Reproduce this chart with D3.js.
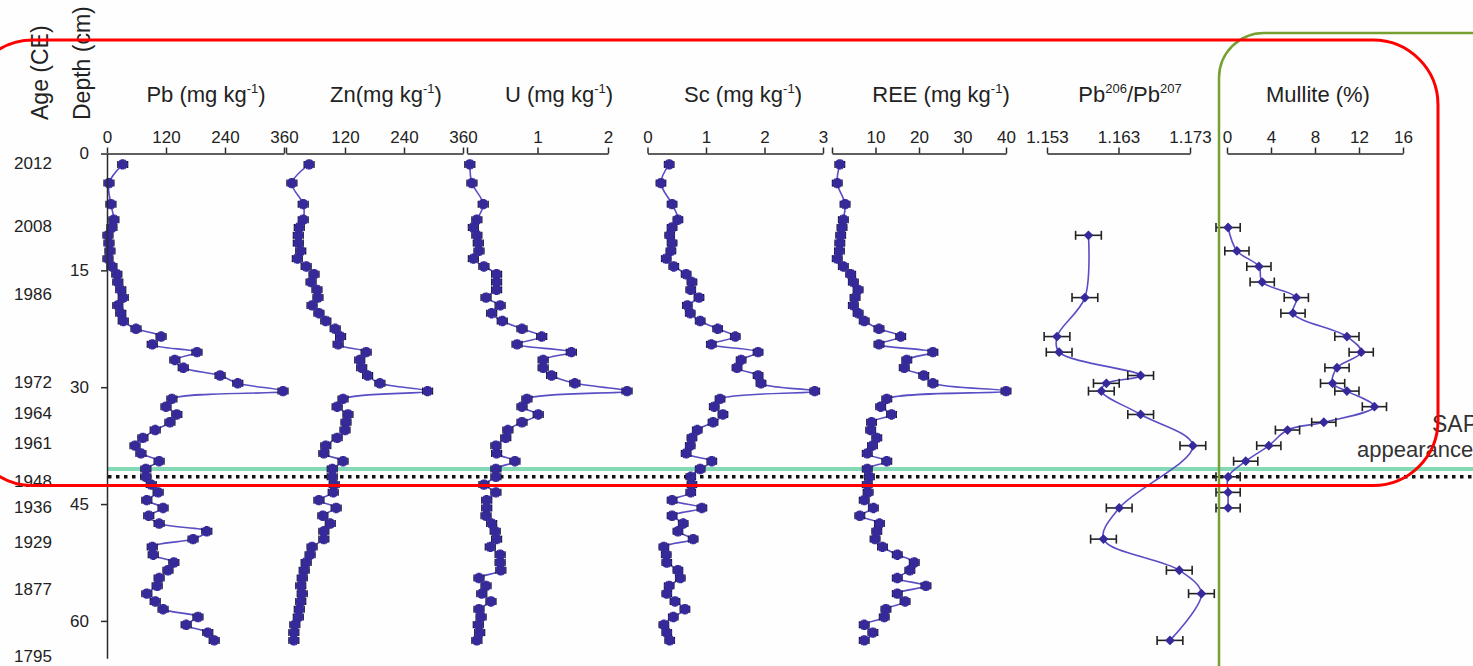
<!DOCTYPE html>
<html>
<head>
<meta charset="utf-8">
<script src="https://cdn.jsdelivr.net/npm/d3@7"></script>
<style>
  body { margin: 0; background: #fefefe; }
  svg { display: block; font-family: "Liberation Sans", Arial, sans-serif; }
</style>
</head>
<body>
<svg width="1473" height="666"></svg>
<script>
// глубины отбора проб (см)
const depth = [1.4, 3.8, 6.5, 8.5, 9.5, 10.5, 11.5, 12.5, 13.5, 14.5, 15.5, 16.5, 17.5, 18.5, 19.5, 20.5,
  21.5, 22.5, 23.5, 24.5, 25.5, 26.5, 27.5, 28.5, 29.5, 30.5, 31.5, 32.5, 33.5, 34.5, 35.5, 36.5, 37.5,
  38.5, 39.5, 40.5, 41.5, 42.5, 43.5, 44.5, 45.5, 46.5, 47.5, 48.5, 49.5, 50.5, 51.5, 52.5, 53.5, 54.5,
  55.5, 56.5, 57.5, 58.5, 59.5, 60.5, 61.5, 62.5];

const pb = [32, 4, 8, 14, 10, 2, 4, 6, 2, 10, 20, 22, 28, 33, 22, 28, 33, 59, 110, 92, 183, 138, 155, 230,
  266, 358, 132, 120, 142, 128, 98, 73, 57, 69, 106, 79, 79, 90, 104, 81, 114, 85, 106, 203, 175, 92, 94,
  136, 124, 106, 102, 81, 98, 114, 185, 161, 205, 218];
const zn = [47, 12, 35, 35, 27, 25, 25, 30, 23, 41, 57, 51, 63, 65, 53, 67, 81, 100, 111, 106, 163, 150, 154,
  166, 191, 288, 116, 104, 126, 122, 120, 104, 81, 77, 116, 94, 94, 98, 96, 67, 102, 75, 90, 77, 77, 53, 49,
  41, 37, 33, 30, 33, 30, 27, 25, 18, 16, 16];
const u = [0.04, 0.07, 0.23, 0.14, 0.09, 0.14, 0.16, 0.17, 0.09, 0.24, 0.42, 0.42, 0.42, 0.27, 0.47, 0.35,
  0.50, 0.78, 1.06, 0.71, 1.48, 1.08, 1.08, 1.20, 1.53, 2.27, 0.85, 0.78, 1.01, 0.78, 0.58, 0.55, 0.41, 0.42,
  0.68, 0.41, 0.41, 0.24, 0.41, 0.28, 0.28, 0.27, 0.35, 0.40, 0.42, 0.33, 0.47, 0.47, 0.48, 0.17, 0.27, 0.21,
  0.34, 0.17, 0.20, 0.16, 0.18, 0.14];
const sc = [0.37, 0.23, 0.42, 0.52, 0.42, 0.38, 0.42, 0.40, 0.32, 0.45, 0.66, 0.76, 0.74, 0.88, 0.68, 0.73,
  0.90, 1.20, 1.50, 1.09, 1.89, 1.60, 1.53, 1.89, 1.94, 2.86, 1.24, 1.14, 1.29, 1.12, 0.85, 0.76, 0.73, 0.66,
  1.10, 0.90, 0.74, 0.76, 0.74, 0.42, 0.93, 0.42, 0.61, 0.52, 0.78, 0.28, 0.32, 0.33, 0.52, 0.56, 0.37, 0.33,
  0.47, 0.64, 0.44, 0.28, 0.33, 0.38];
const ree = [1.8, 1.2, 3.0, 2.6, 2.3, 2.0, 1.8, 1.7, 1.2, 2.6, 4.3, 4.9, 6.0, 5.3, 4.9, 6.0, 7.4, 10.8, 15.8,
  10.8, 23.2, 17.2, 16.6, 21.1, 23.2, 40, 12.6, 11.2, 13.7, 9.1, 8.9, 10.3, 9.3, 8.1, 12.6, 8.1, 8.6, 8.1,
  8.3, 7.4, 9.5, 6.4, 10.9, 10.3, 9.9, 11.6, 15.0, 18.9, 17.9, 15.0, 21.6, 15.0, 16.8, 12.4, 12.0, 7.4, 9.4, 7.4];

// изотопы свинца
const isoDepth = [10.5, 18.5, 23.5, 25.5, 28.5, 29.5, 30.5, 33.5, 37.5, 45.5, 49.5, 53.5, 56.5, 62.5];
const pbRatio = [1.1588, 1.1583, 1.1544, 1.1547, 1.1661, 1.1613, 1.1606, 1.1661, 1.1734, 1.1631, 1.1609,
  1.1715, 1.1746, 1.1702];

// муллит
const mulDepth = [9.5, 12.5, 14.5, 16.5, 18.5, 20.5, 23.5, 25.5, 27.5, 29.5, 30.5, 32.5, 34.5, 35.5, 37.5,
  39.5, 41.5, 43.5, 45.5];
const mullite = [0.1, 0.9, 2.9, 3.2, 6.3, 6.0, 10.9, 12.2, 10.0, 9.6, 10.9, 13.4, 8.8, 5.5, 3.8, 1.7, 0.1, 0.1, 0.1];

// шкала возраста
const ageLabels = ["2012", "2008", "1986", "1972", "1964", "1961", "1948", "1936", "1929", "1877", "1795"];
const ageDepth = [1.2, 9.3, 18.0, 29.3, 33.3, 37.2, 42.0, 45.4, 49.9, 55.9, 64.5];
const depthTicks = [0, 15, 30, 45, 60];

const sapDepth = 40.5;
const horizonDepth = 41.5;

const svg = d3.select("svg");
const y = d3.scaleLinear().domain([0, 64.8]).range([153.5, 658.3]);

const lineColor = "#5a4ec4";
const markColor = "#36299a";
const axisColor = "#2a2a2a";

// горизонтальные линии (под данными)
svg.append("line")
  .attr("x1", 108).attr("x2", 1473)
  .attr("y1", y(sapDepth)).attr("y2", y(sapDepth))
  .attr("stroke", "#84dab6").attr("stroke-width", 4);
svg.append("line")
  .attr("x1", 108).attr("x2", 1473)
  .attr("y1", y(horizonDepth)).attr("y2", y(horizonDepth))
  .attr("stroke", "#111").attr("stroke-width", 3.5)
  .attr("stroke-dasharray", "3.5,4.5");

// панели элементов
const panels = [
  {vals: pb, title: ["Pb (mg kg", "-1", ")"], domain: [0, 360], range: [107, 284], ticks: [0, 120, 240, 360], hide: [], err: 10, cx: 206},
  {vals: zn, title: ["Zn(mg kg", "-1", ")"], domain: [0, 360], range: [286, 463], ticks: [0, 120, 240, 360], hide: [0], err: 10, cx: 386},
  {vals: u, title: ["U (mg kg", "-1", ")"], domain: [0, 2], range: [467, 608], ticks: [0, 1, 2], hide: [0], err: 0.07, cx: 559},
  {vals: sc, title: ["Sc (mg kg", "-1", ")"], domain: [0, 3], range: [647.5, 823], ticks: [0, 1, 2, 3], hide: [], err: 0.08, cx: 743},
  {vals: ree, title: ["REE (mg kg", "-1", ")"], domain: [0, 40], range: [832, 1006], ticks: [0, 10, 20, 30, 40], hide: [0], err: 1.1, cx: 941}
];

function drawTopAxis(x, ticks, hide, fmt) {
  const g = svg.append("g").attr("transform", "translate(0,153.5)")
    .call(d3.axisTop(x).tickValues(ticks).tickSize(6).tickSizeOuter(0).tickPadding(4.5)
      .tickFormat(d => hide.includes(d) ? "" : fmt(d)));
  g.select(".domain").attr("stroke", axisColor).attr("stroke-width", 1.5);
  g.selectAll(".tick line").attr("stroke", axisColor).attr("stroke-width", 1.5);
  g.selectAll(".tick text").attr("fill", "#222").attr("font-size", 17)
    .attr("font-family", "Liberation Sans, Arial, sans-serif");
}

function drawTitle(parts, cx) {
  const t = svg.append("text").attr("x", cx).attr("y", 102)
    .attr("text-anchor", "middle").attr("font-size", 22).attr("fill", "#222");
  parts.forEach((p, i) => {
    const sup = i % 2 === 1;
    t.append("tspan").text(p)
      .attr("font-size", sup ? 13 : 22)
      .attr("dy", sup ? -9 : (i > 0 ? 9 : 0));
  });
}

const cross = d3.symbol().type(d3.symbolCross).size(60);

panels.forEach(p => {
  const x = d3.scaleLinear().domain(p.domain).range(p.range);
  drawTopAxis(x, p.ticks, p.hide, d3.format("d"));
  drawTitle(p.title, p.cx);

  const data = depth.map((d, i) => ({d: d, v: p.vals[i]}));
  const line = d3.line()
    .x(d => x(d.v))
    .y(d => y(d.d))
    .curve(d3.curveCatmullRom.alpha(0.5));
  svg.append("path").attr("d", line(data))
    .attr("fill", "none").attr("stroke", lineColor).attr("stroke-width", 1.6);

  const eb = svg.append("g").attr("stroke", "#111").attr("stroke-width", 1.3);
  data.forEach(d => {
    const x0 = x(d.v - p.err), x1 = x(d.v + p.err), yy = y(d.d);
    eb.append("line").attr("x1", x0).attr("x2", x1).attr("y1", yy).attr("y2", yy);
    eb.append("line").attr("x1", x0).attr("x2", x0).attr("y1", yy - 3.5).attr("y2", yy + 3.5);
    eb.append("line").attr("x1", x1).attr("x2", x1).attr("y1", yy - 3.5).attr("y2", yy + 3.5);
  });

  const m = svg.append("g").attr("fill", markColor);
  data.forEach(d => {
    const tx = `translate(${x(d.v)},${y(d.d)})`;
    m.append("circle").attr("transform", tx).attr("r", 4);
    m.append("path").attr("transform", tx).attr("d", cross());
    m.append("path").attr("transform", tx + " rotate(45)").attr("d", cross());
  });
});

// панели с ромбами: изотопы и муллит
const diamond = d3.symbol().type(d3.symbolSquare).size(48);
const smallPanels = [
  {dep: isoDepth, vals: pbRatio, title: ["Pb", "206", "/Pb", "207", ""], domain: [1.153, 1.173], range: [1047, 1190],
    ticks: [1.153, 1.163, 1.173], fmt: d3.format(".3f"), err: 0.0018, cx: 1130},
  {dep: mulDepth, vals: mullite, title: ["Mullite (%)"], domain: [0, 16], range: [1227, 1403],
    ticks: [0, 4, 8, 12, 16], fmt: d3.format("d"), err: 1.1, cx: 1318}
];

smallPanels.forEach(p => {
  const x = d3.scaleLinear().domain(p.domain).range(p.range);
  drawTopAxis(x, p.ticks, [], p.fmt);
  drawTitle(p.title, p.cx);

  const data = p.dep.map((d, i) => ({d: d, v: p.vals[i]}));
  const line = d3.line()
    .x(d => x(d.v))
    .y(d => y(d.d))
    .curve(d3.curveCatmullRom.alpha(0.5));
  svg.append("path").attr("d", line(data))
    .attr("fill", "none").attr("stroke", lineColor).attr("stroke-width", 1.6);

  const eb = svg.append("g").attr("stroke", "#222").attr("stroke-width", 1.6);
  data.forEach(d => {
    const x0 = x(d.v - p.err), x1 = x(d.v + p.err), yy = y(d.d);
    eb.append("line").attr("x1", x0).attr("x2", x1).attr("y1", yy).attr("y2", yy);
    eb.append("line").attr("x1", x0).attr("x2", x0).attr("y1", yy - 4.5).attr("y2", yy + 4.5);
    eb.append("line").attr("x1", x1).attr("x2", x1).attr("y1", yy - 4.5).attr("y2", yy + 4.5);
  });

  svg.append("g").selectAll("path").data(data).join("path")
    .attr("transform", d => `translate(${x(d.v)},${y(d.d)}) rotate(45)`)
    .attr("d", diamond())
    .attr("fill", markColor);
});

// ось глубины
const ya = svg.append("g").attr("transform", "translate(107,0)")
  .call(d3.axisLeft(y).tickValues(depthTicks).tickSize(6).tickSizeOuter(0).tickPadding(12));
ya.select(".domain").attr("stroke", axisColor).attr("stroke-width", 1.5);
ya.selectAll(".tick line").attr("stroke", axisColor).attr("stroke-width", 1.5);
ya.selectAll(".tick text").attr("fill", "#222").attr("font-size", 17)
  .attr("font-family", "Liberation Sans, Arial, sans-serif");

// возраст
svg.append("g").selectAll("text").data(ageLabels).join("text")
  .attr("x", 33)
  .attr("y", (d, i) => y(ageDepth[i]))
  .attr("dy", "0.35em")
  .attr("text-anchor", "middle")
  .attr("font-size", 17)
  .attr("fill", "#222")
  .text(d => d);

svg.append("text").attr("transform", "translate(48,120) rotate(-90)")
  .attr("font-size", 23).attr("fill", "#222").text("Age (CE)");
svg.append("text").attr("transform", "translate(90,120) rotate(-90)")
  .attr("font-size", 23).attr("fill", "#222").text("Depth (cm)");

// подпись SAP
svg.append("text").attr("x", 1432).attr("y", 432)
  .attr("font-size", 23).attr("fill", "#333").text("SAP");
svg.append("text").attr("x", 1357).attr("y", 457)
  .attr("font-size", 22).attr("fill", "#333").text("appearance");

// рамки
svg.append("rect")
  .attr("x", 1219).attr("y", 33).attr("width", 600).attr("height", 800).attr("rx", 45)
  .attr("fill", "none").attr("stroke", "#77a033").attr("stroke-width", 2.5);
svg.append("rect")
  .attr("x", -32).attr("y", 40).attr("width", 1470).attr("height", 445.5).attr("rx", 65)
  .attr("fill", "none").attr("stroke", "#ff0000").attr("stroke-width", 3);
</script>
</body>
</html>
